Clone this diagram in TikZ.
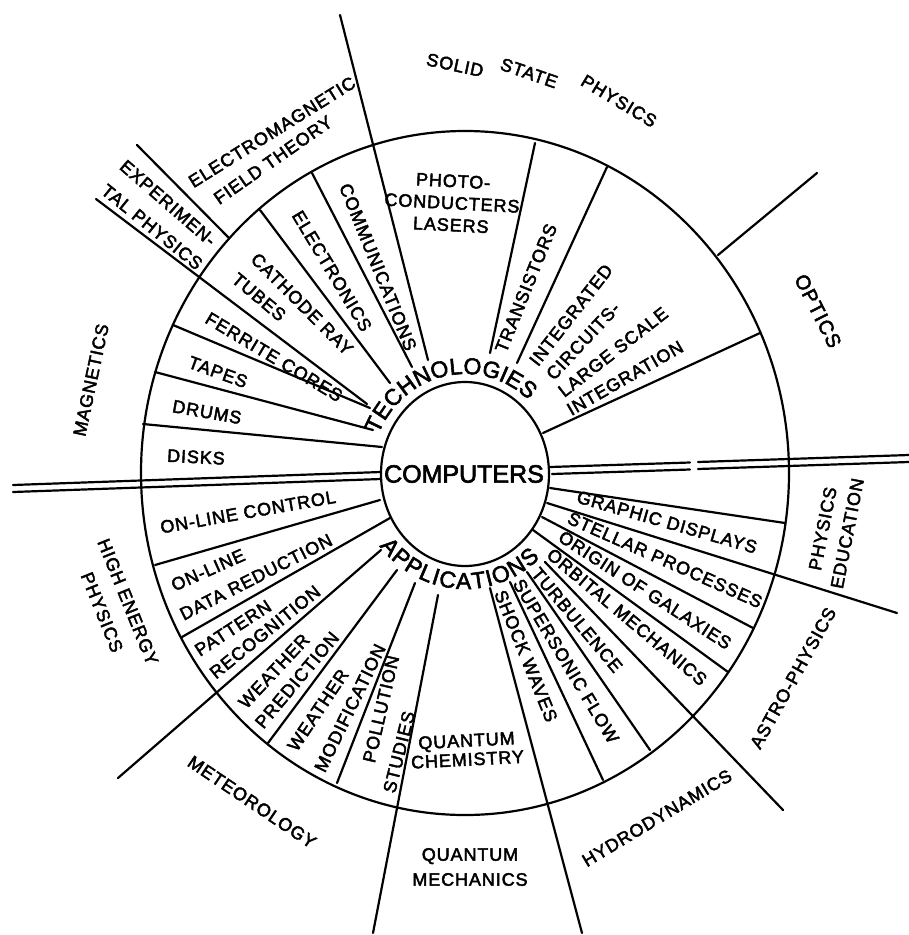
\documentclass[tikz,border=0pt]{standalone}
\usepackage{fontspec}
\setmainfont[LetterSpace=5, FakeBold=2.5]{Liberation Sans}
\newfontfamily\hubfont[FakeBold=2.5]{Liberation Sans}
\usetikzlibrary{calc, decorations.text}

\begin{document}
\begin{tikzpicture}[
    x=1pt, y=-1pt,
    rim/.style={line width=2.2pt, line cap=round},
    field/.style={font=\fontsize{18}{25}\selectfont, align=center, inner sep=0pt},
    sector/.style={font=\fontsize{18}{22}\selectfont, align=center, inner sep=0pt},
    hub/.style={font=\hubfont\fontsize{25}{27}\selectfont, inner sep=0pt}
]
\useasboundingbox (0,0) rectangle (909,935);

% --------------------------------------------------------------------------
% Rings
% --------------------------------------------------------------------------
\draw[rim] (465,473) ellipse[x radius=324, y radius=342];
\draw[rim] (465,474) ellipse[x radius=84, y radius=92];
\node[hub] (computers) at (464,474) {COMPUTERS};

\path[decorate, decoration={text along path, text align={fit to path},
    text={|\hubfont\fontsize{23}{23}\selectfont|TECHNOLOGIES}}]
    ($(465,473)+(-157:94 and 99)$) arc[start angle=-157, end angle=-50, x radius=94, y radius=99];
\path[decorate, decoration={text along path, text align={fit to path},
    text={|\hubfont\fontsize{23}{23}\selectfont|APPLICATIONS}}]
    ($(465,473)+(-219:110 and 116)$) arc[start angle=-219, end angle=-313, x radius=110, y radius=116];

% --------------------------------------------------------------------------
% Spokes, upper half (technologies)
% --------------------------------------------------------------------------
\draw[rim] (13,485) -- (381,472);
\draw[rim] (13,492) -- (381,479);
\draw[rim] (143,424) -- (382,447);
\draw[rim] (155,372) -- (373,430);
\draw[rim] (173,325) -- (370,408);
\draw[rim] (96,199) -- (367,404);
\draw[rim] (137,145) -- (228,237);
\draw[rim] (260,210) -- (390,383);
\draw[rim] (312,173) -- (412,367);
\draw[rim] (340,15) -- (428,360);
\draw[rim] (535,143) -- (490,353);
\draw[rim] (607,167) -- (517,363);
\draw[rim] (760,333) -- (543,433);
\draw[rim] (718,255) -- (817,173);
\draw[rim] (550,467) -- (690,462.5) (698,462) -- (909,455);
\draw[rim] (552,474) -- (690,469.5) (698,469) -- (909,462);

% --------------------------------------------------------------------------
% Spokes, lower half (applications)
% --------------------------------------------------------------------------
\draw[rim] (550,488) -- (785,523);
\draw[rim] (547,503) -- (897,613);
\draw[rim] (542,517) -- (753,628);
\draw[rim] (533,530) -- (728,672);
\draw[rim] (545,562) -- (783,810);
\draw[rim] (527,572) -- (650,750);
\draw[rim] (510,582) -- (603,780);
\draw[rim] (490,588) -- (582,933);
\draw[rim] (438,595) -- (373,933);
\draw[rim] (415,583) -- (337,783);
\draw[rim] (397,570) -- (268,743);
\draw[rim] (381,550) -- (118,778);
\draw[rim] (390,518) -- (182,637);
\draw[rim] (380,500) -- (155,565);

% --------------------------------------------------------------------------
% Fields of physics (outside)
% --------------------------------------------------------------------------
\node[field, rotate=-12] (solid) at (455,65) {SOLID};
\node[field, rotate=-19] (state) at (529,73) {STATE};
\node[field, rotate=-31] (solidphys) at (619,101) {PHYSICS};
\node[field, rotate=32] (emfield) at (272,132) {ELECTROMAGNETIC};
\node[field, rotate=35] (emtheory) at (273,160) {FIELD THEORY};
\node[field, rotate=-41] (experimen) at (168,203) {EXPERIMEN-};
\node[field, rotate=-39] (talphys) at (152,227) {TAL PHYSICS};
\node[field, rotate=78] (magnetics) at (91,380) {MAGNETICS};
\node[field, rotate=-68, font=\fontsize{18}{28}\selectfont] (highenergy) at (115,607) {HIGH ENERGY\\PHYSICS};
\node[field, rotate=-34] (meteorology) at (252,802) {METEOROLOGY};
\node[field] (qmech) at (470,867) {QUANTUM\\MECHANICS};
\node[field, rotate=31] (hydro) at (657,818) {HYDRODYNAMICS};
\node[field, rotate=61] (astro) at (793,678) {ASTRO-PHYSICS};
\node[field, rotate=79] (physedu) at (835,531) {PHYSICS\\EDUCATION};
\node[field, rotate=-63, font=\fontsize{20}{22}\selectfont] (optics) at (818,311) {OPTICS};

% --------------------------------------------------------------------------
% Technologies (inside, top)
% --------------------------------------------------------------------------
\node[sector, rotate=-3] (disks) at (196,457) {DISKS};
\node[sector, rotate=-10] (drums) at (207,412) {DRUMS};
\node[sector, rotate=-20] (tapes) at (218,372) {TAPES};
\node[sector, rotate=-31] (ferrite) at (274,357) {FERRITE CORES};
\node[sector, rotate=-45] (cathode) at (302,304) {CATHODE RAY};
\node[sector, rotate=-40] (tubes) at (259,297) {TUBES};
\node[sector, rotate=-59] (electronics) at (332,271) {ELECTRONICS};
\node[sector, rotate=-68] (communications) at (378,267) {COMMUNICATIONS};
\node[sector, rotate=-3] (photo) at (452,203) {PHOTO-\\CONDUCTERS\\LASERS};
\node[sector, rotate=68] (transistors) at (526,288) {TRANSISTORS};
\node[sector, rotate=52] (integrated) at (571,315) {INTEGRATED};
\node[sector, rotate=47] (circuits) at (583,341) {CIRCUITS-};
\node[sector, rotate=38] (largescale) at (613,352) {LARGE SCALE};
\node[sector, rotate=30] (integration) at (625,378) {INTEGRATION};

% --------------------------------------------------------------------------
% Applications (inside, bottom)
% --------------------------------------------------------------------------
\node[sector, rotate=-16] (graphic) at (667,522) {GRAPHIC DISPLAYS};
\node[sector, rotate=-24] (stellar) at (665,560) {STELLAR PROCESSES};
\node[sector, rotate=-33] (galaxies) at (645,590) {ORIGIN OF GALAXIES};
\node[sector, rotate=-40] (orbital) at (627,617) {ORBITAL MECHANICS};
\node[sector, rotate=-50] (turbulence) at (577,620) {TURBULENCE};
\node[sector, rotate=-59] (supersonic) at (566,661) {SUPERSONIC FLOW};
\node[sector, rotate=-68] (shock) at (526,656) {SHOCK WAVES};
\node[sector, rotate=3, font=\fontsize{18}{19}\selectfont] (qchem) at (467,750) {QUANTUM\\CHEMISTRY};
\node[sector, rotate=77] (pollution) at (381,709) {POLLUTION};
\node[sector, rotate=76] (studies) at (399,752) {STUDIES};
\node[sector, rotate=56] (wmodw) at (318,710) {WEATHER};
\node[sector, rotate=64] (wmod) at (350,708) {MODIFICATION};
\node[sector, rotate=47] (wpredw) at (274,671) {WEATHER};
\node[sector, rotate=50] (wpred) at (297,680) {PREDICTION};
\node[sector, rotate=33] (pattern) at (233,628) {PATTERN};
\node[sector, rotate=39] (recognition) at (265,632) {RECOGNITION};
\node[sector, rotate=24] (online) at (208,570) {ON-LINE};
\node[sector, rotate=27] (datared) at (256,577) {DATA REDUCTION};
\node[sector, rotate=10] (control) at (248,512) {ON-LINE CONTROL};

\end{tikzpicture}
\end{document}
